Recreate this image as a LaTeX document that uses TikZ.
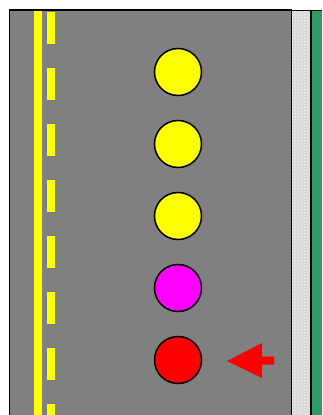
\documentclass[tikz,border=0pt]{standalone}
\usetikzlibrary{patterns}
\definecolor{road}{RGB}{128,128,128}
\definecolor{grass}{RGB}{46,155,100}
\definecolor{walk}{RGB}{215,215,215}
\definecolor{carmag}{RGB}{255,0,255}
\definecolor{caryel}{RGB}{255,255,0}
\definecolor{carred}{RGB}{255,0,0}
\tikzset{
  car/.style={circle, draw=black, line width=1.5pt, minimum size=47pt, inner sep=0pt},
  yline/.style={fill=caryel, draw=none}
}
\begin{document}
\begin{tikzpicture}[x=1pt,y=-1pt]
\useasboundingbox (0,0) rectangle (322,415);
% road
\fill[road] (9.5,10) rectangle (291.5,416);
\draw[line width=1.5pt] (9.5,416) -- (9.5,10) -- (291.5,10);
% sidewalk
\fill[walk] (292,10) rectangle (310.5,416);
\fill[pattern=crosshatch dots, pattern color=white] (292,10) rectangle (310.5,416);
% grass
\fill[grass] (310.5,10) rectangle (322,416);
\draw[line width=1.8pt] (291.5,416) -- (291.5,10);
\draw[line width=1.5pt] (310.8,416) -- (310.8,10);
\draw[line width=1pt] (291.5,10) -- (322,10);
% yellow lines
\fill[yline] (34,11) rectangle (42,416);
\foreach \y in {12,68,...,404} {
  \fill[yline] (47,\y) rectangle (55,\y+32);
}
% cars
\node[car, fill=caryel] (c1) at (178,72) {};
\node[car, fill=caryel] (c2) at (178,144) {};
\node[car, fill=caryel] (c3) at (178,216) {};
\node[car, fill=carmag] (c4) at (178,288) {};
\node[car, fill=carred] (c5) at (178,360) {};
% arrow
\fill[carred] (227,361) -- (262,343) -- (262,356.5) -- (274,356.5) -- (274,364.5) -- (262,364.5) -- (262,378) -- cycle;
\end{tikzpicture}
\end{document}
